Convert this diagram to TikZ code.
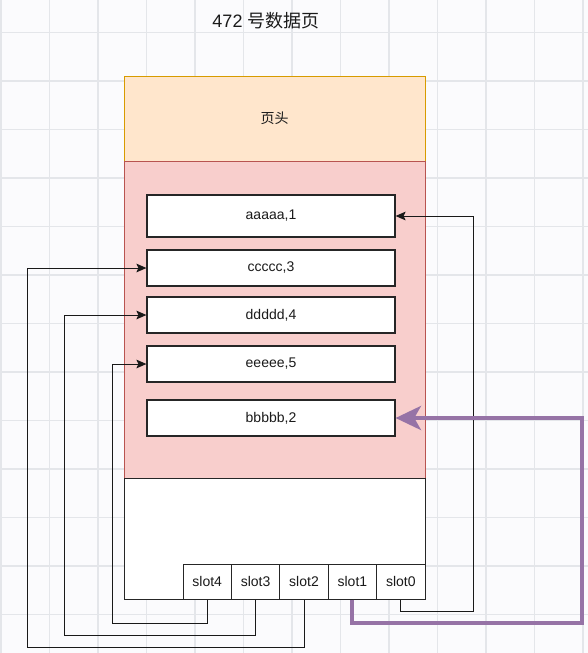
\documentclass[tikz,border=0pt]{standalone}
\usepackage{fontspec}
\setmainfont{Liberation Sans}
\newfontfamily\cjk{Noto Sans CJK SC}
\usetikzlibrary{arrows.meta}
\definecolor{bgc}{HTML}{FBFBFD}
\definecolor{gridc}{HTML}{E4E6EA}
\definecolor{hdrfill}{HTML}{FFE6CC}
\definecolor{hdrdraw}{HTML}{D79B00}
\definecolor{redfill}{HTML}{F8CECC}
\definecolor{reddraw}{HTML}{B85450}
\definecolor{purp}{HTML}{9673A6}
\definecolor{txt}{HTML}{1A1A1A}
\tikzset{
  px/.style={x=0.75pt,y=-0.75pt},
  region/.style={draw, line width=0.75pt, inner sep=0pt, minimum width=225.75pt, text=txt, font=\fontsize{10.5}{12}\selectfont},
  recbox/.style={draw=black!85, fill=white, line width=0.9pt, inner sep=0pt, minimum width=186pt, minimum height=27pt, text=txt, font=\fontsize{10.5}{12}\selectfont},
  slotbox/.style={draw=black!85, fill=white, line width=0.75pt, inner sep=0pt, minimum width=36.3pt, minimum height=26.25pt, text=txt, font=\fontsize{10.5}{12}\selectfont},
  conn/.style={draw=black!90, line width=0.75pt, -{Stealth[length=7.5pt,width=6.5pt,inset=1.5pt]}},
  bigconn/.style={draw=purp, line width=3pt, -{Stealth[length=19pt,width=18pt,inset=5pt]}},
}
\begin{document}
\begin{tikzpicture}[px]
\useasboundingbox (0,0) rectangle (588,653);
\fill[bgc] (0,0) rectangle (588,653);
\foreach \k in {0,...,12} {
  \draw[gridc, line width=0.9pt] ({1+48.5*\k},0) -- ({1+48.5*\k},653);
  \draw[gridc, line width=0.9pt] (0,{32.5+48.5*\k}) -- (588,{32.5+48.5*\k});
}
% title
\node[text=txt, font=\fontsize{13.5}{16}\selectfont] (title) at (266,21) {472 {\cjk 号数据页}};
% regions
\node[region, draw=hdrdraw, fill=hdrfill, minimum height=63.75pt] (hdr) at (274.5,118.5) {\cjk 页头};
\node[region, draw=reddraw, fill=redfill, minimum height=237.75pt] (body) at (274.5,319.5) {};
\node[region, draw=black!85, fill=white, minimum height=90.75pt] (free) at (274.5,538.5) {};
% records
\node[recbox, minimum height=31.5pt] (ra) at (271,216) {aaaaa,1};
\node[recbox] (rc) at (271,268) {ccccc,3};
\node[recbox] (rd) at (271,315) {ddddd,4};
\node[recbox] (re) at (271,364) {eeeee,5};
\node[recbox] (rb) at (271,418) {bbbbb,2};
% slots
\node[slotbox] (s4) at (207.2,581.5) {slot4};
\node[slotbox] (s3) at (255.6,581.5) {slot3};
\node[slotbox] (s2) at (304,581.5) {slot2};
\node[slotbox] (s1) at (352.4,581.5) {slot1};
\node[slotbox] (s0) at (400.8,581.5) {slot0};
% turning points
\coordinate (t0) at (473,611);
\coordinate (t1) at (582,623);
\coordinate (t2) at (27,647);
\coordinate (t3) at (64,635);
\coordinate (t4) at (112,623);
% connectors
\draw[conn] (s0.south) |- (t0) |- (ra.east);
\draw[conn] (s2.south) |- (t2) |- (rc.west);
\draw[conn] (s3.south) |- (t3) |- (rd.west);
\draw[conn] (s4.south) |- (t4) |- (re.west);
\draw[bigconn] (s1.south) |- (t1) |- (rb.east);
\end{tikzpicture}
\end{document}
